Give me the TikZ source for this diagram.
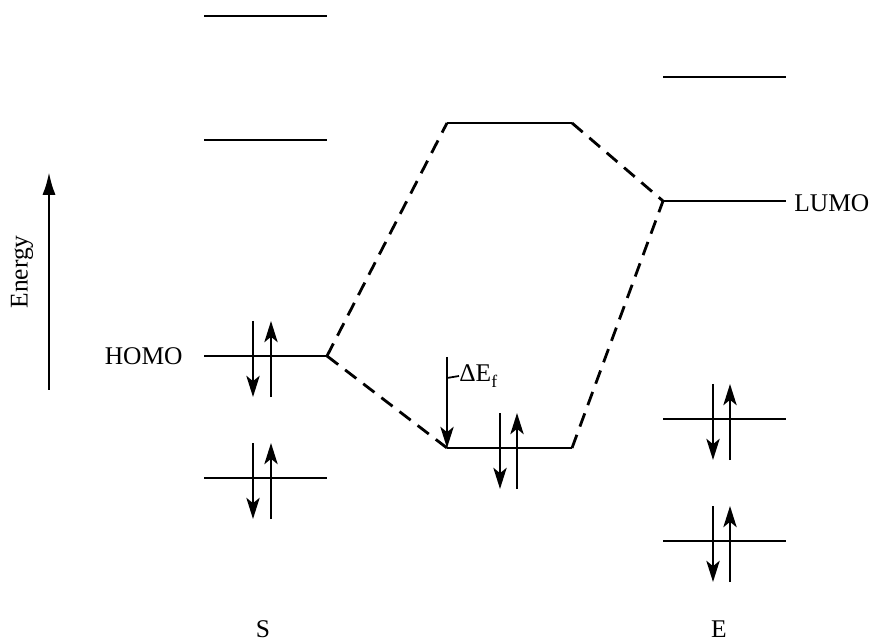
\documentclass[tikz,border=0pt]{standalone}
\usepackage{fontspec}
\setmainfont{Liberation Serif}
\usetikzlibrary{arrows.meta}
\begin{document}
\begin{tikzpicture}[x=0.02cm,y=-0.02cm,
  level/.style={line width=1.6pt},
  corr/.style={line width=1.6pt,dash pattern=on 8pt off 5pt},
  spin/.style={line width=1.6pt,-{Stealth[length=12pt,width=7.5pt,inset=3pt]}},
  lbl/.style={font=\fontsize{14.5}{17}\selectfont,inner sep=0pt}]
\useasboundingbox (0,0) rectangle (884,644);
% S levels
\coordinate (s1a) at (204,16);  \coordinate (s1b) at (327,16);
\coordinate (s2a) at (204,140); \coordinate (s2b) at (327,140);
\coordinate (s3a) at (204,356); \coordinate (s3b) at (327,356);
\coordinate (s4a) at (204,478); \coordinate (s4b) at (327,478);
% complex levels
\coordinate (c1a) at (447,123); \coordinate (c1b) at (572,123);
\coordinate (c2a) at (447,448); \coordinate (c2b) at (572,448);
% E levels
\coordinate (e1a) at (663,77);  \coordinate (e1b) at (786,77);
\coordinate (e2a) at (663,201); \coordinate (e2b) at (786,201);
\coordinate (e3a) at (663,419); \coordinate (e3b) at (786,419);
\coordinate (e4a) at (663,541); \coordinate (e4b) at (786,541);
\foreach \l in {s1,s2,s3,s4,c1,c2,e1,e2,e3,e4}
  \draw[level] (\l a) -- (\l b);
% correlation lines
\draw[corr] (s3b) -- (c1a);
\draw[corr] (s3b) -- (c2a);
\draw[corr] (c1b) -- (e2a);
\draw[corr] (c2b) -- (e2a);
% spin pairs
\foreach \n/\xd/\xu/\y in {p1/253/271/356, p2/253/271/478, p3/500/517/448, p4/713/730/419, p5/713/730/541}{
  \coordinate (\n dt) at (\xd,\y-35); \coordinate (\n db) at (\xd,\y+41);
  \coordinate (\n ut) at (\xu,\y-35); \coordinate (\n ub) at (\xu,\y+41);
  \draw[spin] (\n dt) -- (\n db);
  \draw[spin] (\n ub) -- (\n ut);
}
% Delta E_f
\coordinate (dft) at (447,357);
\draw[spin] (dft) -- (c2a);
\coordinate (tk) at (447,378);
\node[lbl,anchor=west] (df) at (459,376) {ΔE\raisebox{-0.45ex}{\fontsize{10}{12}\selectfont f}};
\draw[line width=1pt] (tk) -- (df.west);
% labels
\node[lbl,anchor=east] (homo) at (183,356) {HOMO};
\node[lbl,anchor=west] (lumo) at (794,203) {LUMO};
\node[lbl] (S) at (263,629) {S};
\node[lbl] (E) at (719,629) {E};
% energy axis
\coordinate (ea) at (49,390); \coordinate (eb) at (49,172);
\draw[line width=1.6pt,-{Latex[length=13pt,width=7.5pt]}] (ea) -- (eb);
\node[lbl,rotate=90] (en) at (22,272) {Energy};
\end{tikzpicture}
\end{document}
